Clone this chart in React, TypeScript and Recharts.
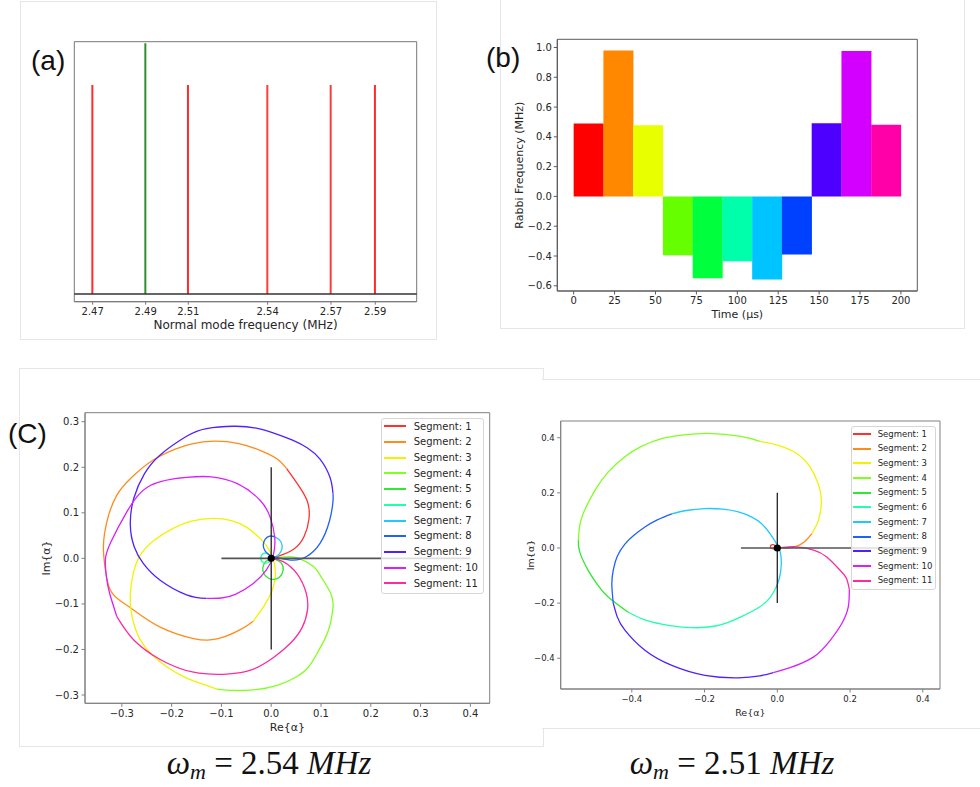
import React from 'react'
import {
  BarChart,
  Bar,
  Cell,
  LineChart,
  Line,
  XAxis,
  YAxis,
  ReferenceLine,
  ReferenceArea,
  ReferenceDot,
  Legend,
} from 'recharts'

const FONT = '"DejaVu Sans", Verdana, sans-serif'
const INK = '#262626'
const FRAME = '#5a5a5a'

// (a) normal mode spectrum
const modeFreqs = [2.4685, 2.491, 2.5091, 2.5428, 2.5697, 2.5885]
const modeAmps = [1.0, 1.2, 1.0, 1.0, 1.0, 1.0]
const modeColors = ['#ff2b2b', '#2f8f2f', '#ff2b2b', '#ff3b3b', '#ff3b3b', '#ff2b2b']

// (b) segmented Rabbi pulse
const segTimes = [9.09, 27.27, 45.45, 63.64, 81.82, 100, 118.18, 136.36, 154.55, 172.73, 190.91]
const rabbi = [0.49, 0.98, 0.478, -0.395, -0.55, -0.435, -0.558, -0.39, 0.491, 0.977, 0.482]
const barColors = [
  '#ff0000', '#ff8800', '#e8ff00', '#66ff00', '#00ff3c', '#00ffaa',
  '#00c4ff', '#0040ff', '#4d00ff', '#d400ff', '#ff00a8',
]
const timeTicks = [0, 25, 50, 75, 100, 125, 150, 175, 200]
const rabbiTicks = [-0.6, -0.4, -0.2, 0, 0.2, 0.4, 0.6, 0.8, 1.0]

// (C) phase space trajectories, one list of [Re, Im] points per segment
type P = [number, number]
const segNames = [
  'Segment: 1', 'Segment: 2', 'Segment: 3', 'Segment: 4', 'Segment: 5', 'Segment: 6',
  'Segment: 7', 'Segment: 8', 'Segment: 9', 'Segment: 10', 'Segment: 11',
]
const lineColors = [
  '#ff3030', '#ff8c1a', '#f2f200', '#80ff20', '#30e830', '#20ffaa',
  '#20c8ff', '#2060ff', '#5020ff', '#d820ff', '#ff2aa0',
]

const traj254: P[][] = [
  [[0, 0], [0.015, 0.005], [0.045, 0.02], [0.066, 0.048], [0.076, 0.088], [0.073, 0.124], [0.058, 0.155], [0.031, 0.197]],
  [[0.031, 0.197], [0.012, 0.218], [-0.02, 0.236], [-0.065, 0.252], [-0.123, 0.257], [-0.18, 0.245], [-0.237, 0.216], [-0.28, 0.178], [-0.31, 0.139], [-0.329, 0.085], [-0.337, 0.029], [-0.334, -0.018], [-0.324, -0.068], [-0.302, -0.094], [-0.277, -0.113], [-0.223, -0.151], [-0.156, -0.176], [-0.109, -0.177], [-0.063, -0.157], [-0.036, -0.138]],
  [[-0.036, -0.138], [-0.012, -0.1], [0.002, -0.07], [0.008, -0.042], [0.006, -0.01], [-0.004, 0.018], [-0.019, 0.04], [-0.049, 0.068], [-0.08, 0.083], [-0.116, 0.088], [-0.16, 0.082], [-0.197, 0.066], [-0.235, 0.04], [-0.263, 0.007], [-0.277, -0.033], [-0.283, -0.08], [-0.279, -0.13], [-0.263, -0.179], [-0.24, -0.211], [-0.21, -0.238], [-0.175, -0.26], [-0.143, -0.274], [-0.109, -0.287]],
  [[-0.109, -0.287], [-0.075, -0.29], [-0.03, -0.288], [0.012, -0.279], [0.051, -0.26], [0.076, -0.237], [0.093, -0.207], [0.109, -0.174], [0.119, -0.142], [0.124, -0.108], [0.12, -0.078], [0.1, -0.04], [0.085, -0.018], [0.058, -0.001], [0.036, 0.004], [0.014, 0.002], [0, 0]],
  [[0, 0], [-0.011, -0.007], [-0.017, -0.022], [-0.012, -0.038], [0.002, -0.046], [0.016, -0.042], [0.024, -0.026], [0.02, -0.01], [0.008, -0.002], [0, 0]],
  [[0, 0], [-0.005, 0.009], [-0.015, 0.011], [-0.021, 0.001], [-0.016, -0.009], [-0.006, -0.009], [0, 0]],
  [[0, 0], [0.01, 0.004], [0.019, 0.014], [0.022, 0.028], [0.017, 0.04], [0.008, 0.047]],
  [[0.008, 0.047], [-0.003, 0.049], [-0.012, 0.042], [-0.016, 0.029], [-0.012, 0.016], [-0.003, 0.007], [0.006, 0.003], [0.018, 0.0], [0.044, -0.004], [0.071, 0.004], [0.098, 0.033], [0.117, 0.082], [0.124, 0.125], [0.124, 0.143]],
  [[0.124, 0.143], [0.118, 0.178], [0.098, 0.218], [0.072, 0.243], [0.044, 0.259], [0.011, 0.273], [-0.03, 0.286], [-0.076, 0.29], [-0.13, 0.285], [-0.17, 0.268], [-0.223, 0.227], [-0.255, 0.185], [-0.276, 0.132], [-0.283, 0.073], [-0.275, 0.025], [-0.257, -0.011], [-0.223, -0.048], [-0.17, -0.08], [-0.13, -0.088]],
  [[-0.13, -0.088], [-0.1, -0.087], [-0.072, -0.079], [-0.036, -0.055], [-0.01, -0.026], [0.004, 0.006], [0.007, 0.047], [-0.002, 0.09], [-0.022, 0.127], [-0.068, 0.164], [-0.12, 0.179], [-0.17, 0.178], [-0.243, 0.16], [-0.29, 0.102], [-0.322, 0.036], [-0.333, -0.002], [-0.331, -0.04], [-0.325, -0.075], [-0.31, -0.128]],
  [[-0.31, -0.128], [-0.277, -0.178], [-0.223, -0.222], [-0.156, -0.25], [-0.089, -0.254], [-0.04, -0.245], [0.004, -0.218], [0.038, -0.187], [0.062, -0.152], [0.073, -0.112], [0.07, -0.075], [0.052, -0.034], [0.024, -0.007], [0, 0]],
]

const traj251: P[][] = [
  [[0, 0], [-0.006, 0.009], [-0.014, 0.012], [-0.019, 0.006], [-0.016, -0.002], [-0.008, -0.003], [0, 0]],
  [[0, 0], [0.026, 0.0], [0.046, 0.004], [0.063, 0.012], [0.08, 0.029], [0.095, 0.052]],
  [[0.095, 0.052], [0.113, 0.1], [0.121, 0.16], [0.119, 0.2], [0.111, 0.238], [0.09, 0.294], [0.053, 0.343], [0.0, 0.373], [-0.048, 0.387]],
  [[-0.048, 0.387], [-0.1, 0.405], [-0.19, 0.416], [-0.26, 0.41], [-0.318, 0.397], [-0.375, 0.368], [-0.419, 0.331], [-0.465, 0.275], [-0.501, 0.21], [-0.527, 0.145], [-0.542, 0.089], [-0.547, 0.028]],
  [[-0.547, 0.028], [-0.543, -0.015], [-0.52, -0.081], [-0.495, -0.132], [-0.465, -0.178], [-0.41, -0.233]],
  [[-0.41, -0.233], [-0.368, -0.259], [-0.318, -0.276], [-0.235, -0.289], [-0.17, -0.283], [-0.135, -0.27], [-0.1, -0.25], [-0.05, -0.215], [-0.02, -0.18], [-0.004, -0.145]],
  [[-0.004, -0.145], [0.006, -0.108], [0.011, -0.058], [0.009, -0.02], [0.002, 0.006], [-0.02, 0.052], [-0.043, 0.088], [-0.07, 0.112], [-0.107, 0.131], [-0.15, 0.141], [-0.199, 0.143], [-0.25, 0.136], [-0.29, 0.124]],
  [[-0.29, 0.124], [-0.33, 0.102], [-0.364, 0.076], [-0.395, 0.045], [-0.419, 0.014], [-0.44, -0.03], [-0.451, -0.08], [-0.455, -0.13], [-0.451, -0.2]],
  [[-0.451, -0.2], [-0.44, -0.25], [-0.419, -0.298], [-0.364, -0.371], [-0.29, -0.426], [-0.199, -0.462], [-0.107, -0.471], [-0.048, -0.464], [-0.011, -0.452]],
  [[-0.011, -0.452], [0.035, -0.434], [0.099, -0.396], [0.145, -0.336], [0.177, -0.275], [0.195, -0.215], [0.198, -0.15]],
  [[0.198, -0.15], [0.19, -0.11], [0.172, -0.08], [0.136, -0.033], [0.1, -0.008], [0.053, 0.004], [0.016, 0.002], [0, 0]],
]

// crosshair guides through the origin
const crossH: P[] = [[-0.1, 0], [0.4, 0]]
const crossV: P[] = [[0, -0.2], [0, 0.2]]

const ticks254X = [-0.3, -0.2, -0.1, 0, 0.1, 0.2, 0.3, 0.4]
const ticks254Y = [-0.3, -0.2, -0.1, 0, 0.1, 0.2, 0.3]
const ticks251X = [-0.4, -0.2, 0, 0.2, 0.4]
const ticks251Y = [-0.4, -0.2, 0, 0.2, 0.4]

const fmt1 = (v: number) => v.toFixed(1).replace('-', '\u2212')
const toPts = (s: P[]) => s.map(([x, y]) => ({ x, y }))

function ModesChart() {
  const data = modeFreqs.map((f, i) => ({ f, a: modeAmps[i] }))
  const xd: [number, number] = [2.4607, 2.6061]
  const yd: [number, number] = [-0.037, 1.207]
  return (
    <BarChart width={420} height={340} data={data} margin={{ top: 41.7, right: 23.3, bottom: 8.3, left: 54.3 }}>
      <XAxis
        dataKey="f"
        type="number"
        domain={xd}
        ticks={modeFreqs}
        allowDataOverflow
        tickFormatter={(v: number) => v.toFixed(2)}
        tick={{ fill: INK, fontSize: 10 }}
        axisLine={{ stroke: '#777' }}
        tickLine={{ stroke: '#777' }}
        tickSize={3}
        tickMargin={3.5}
        height={30}
        label={{ value: 'Normal mode frequency (MHz)', position: 'insideBottom', offset: 2.3, fill: INK, fontSize: 12 }}
      />
      <YAxis hide type="number" domain={yd} allowDataOverflow />
      <ReferenceArea x1={xd[0]} x2={xd[1]} y1={yd[0]} y2={yd[1]} fill="none" stroke="#777" strokeWidth={1} ifOverflow="visible" />
      <ReferenceLine y={0} stroke="#333" strokeWidth={1.6} />
      <Bar dataKey="a" barSize={2} isAnimationActive={false}>
        {data.map((_, i) => (
          <Cell key={i} fill={modeColors[i]} />
        ))}
      </Bar>
    </BarChart>
  )
}

function PulseChart() {
  const data = segTimes.map((t, i) => ({ t, v: rabbi[i] }))
  const xd: [number, number] = [-10, 210]
  const yd: [number, number] = [-0.635, 1.055]
  return (
    <BarChart
      width={465}
      height={330}
      data={data}
      barCategoryGap={0}
      barGap={0}
      margin={{ top: 39.3, right: 47.7, bottom: 7, left: 0 }}
    >
      <XAxis
        dataKey="t"
        type="number"
        domain={xd}
        ticks={timeTicks}
        allowDataOverflow
        tick={{ fill: INK, fontSize: 10 }}
        axisLine={{ stroke: FRAME }}
        tickLine={{ stroke: FRAME }}
        tickSize={3.5}
        tickMargin={2.7}
        height={32}
        label={{ value: 'Time (\u03bcs)', position: 'insideBottom', offset: 4.7, fill: INK, fontSize: 11 }}
      />
      <YAxis
        type="number"
        domain={yd}
        ticks={rabbiTicks}
        allowDataOverflow
        tickFormatter={fmt1}
        tick={{ fill: INK, fontSize: 10 }}
        axisLine={{ stroke: FRAME }}
        tickLine={{ stroke: FRAME }}
        tickSize={3.5}
        tickMargin={2}
        width={57.3}
        label={{
          value: 'Rabbi Frequency (MHz)',
          angle: -90,
          position: 'insideLeft',
          offset: 19,
          style: { textAnchor: 'middle' },
          fill: INK,
          fontSize: 11,
        }}
      />
      <Bar dataKey="v" isAnimationActive={false}>
        {data.map((_, i) => (
          <Cell key={i} fill={barColors[i]} />
        ))}
      </Bar>
      <ReferenceArea x1={xd[0]} x2={xd[1]} y1={yd[0]} y2={yd[1]} fill="none" stroke={FRAME} strokeWidth={1} ifOverflow="visible" />
    </BarChart>
  )
}

interface LegendBox {
  left: number
  top: number
  w: number
  h: number
  padTop: number
  rowH: number
  fontSize: number
  sampleX: number
  sampleW: number
  textX: number
}

// legend rows follow segment order (1..11), not the alphabetical payload order
function SegmentLegend({ box }: { box: LegendBox }) {
  return (
    <div
      style={{
        position: 'relative',
        boxSizing: 'border-box',
        width: box.w,
        height: box.h,
        background: 'rgba(255,255,255,0.8)',
        border: '1px solid #d6d6d6',
        borderRadius: 3,
        fontFamily: FONT,
        fontSize: box.fontSize,
        color: INK,
      }}
    >
      {segNames.map((name, i) => {
        const mid = box.padTop + i * box.rowH + box.rowH / 2
        return (
          <React.Fragment key={name}>
            <div
              style={{
                position: 'absolute',
                left: box.sampleX - 1,
                top: Math.round(mid - 2),
                width: box.sampleW,
                height: 2,
                background: lineColors[i],
              }}
            />
            <div
              style={{
                position: 'absolute',
                left: box.textX - 1,
                top: Math.round(mid - box.rowH / 2 - 1),
                lineHeight: `${box.rowH}px`,
                whiteSpace: 'nowrap',
              }}
            >
              {name}
            </div>
          </React.Fragment>
        )
      })}
    </div>
  )
}

interface TrajCfg {
  segs: P[][]
  w: number
  h: number
  margin: { top: number; right: number; bottom: number; left: number }
  xd: [number, number]
  yd: [number, number]
  xTicks: number[]
  yTicks: number[]
  tickFs: number
  labelFs: number
  xAxisH: number
  yAxisW: number
  xTickMargin: number
  xLabelOffset: number
  yLabelOffset: number
  legend: LegendBox
}

function TrajectoryChart({ cfg }: { cfg: TrajCfg }) {
  const { xd, yd, legend } = cfg
  return (
    <LineChart width={cfg.w} height={cfg.h} margin={cfg.margin}>
      <XAxis
        dataKey="x"
        type="number"
        domain={xd}
        ticks={cfg.xTicks}
        allowDataOverflow
        tickFormatter={fmt1}
        tick={{ fill: INK, fontSize: cfg.tickFs }}
        axisLine={{ stroke: '#808080' }}
        tickLine={{ stroke: '#808080' }}
        tickSize={3.5}
        tickMargin={cfg.xTickMargin}
        height={cfg.xAxisH}
        label={{ value: 'Re{\u03b1}', position: 'insideBottom', offset: cfg.xLabelOffset, fill: INK, fontSize: cfg.labelFs }}
      />
      <YAxis
        type="number"
        domain={yd}
        ticks={cfg.yTicks}
        allowDataOverflow
        tickFormatter={fmt1}
        tick={{ fill: INK, fontSize: cfg.tickFs }}
        axisLine={{ stroke: '#808080' }}
        tickLine={{ stroke: '#808080' }}
        tickSize={3.5}
        tickMargin={2.5}
        width={cfg.yAxisW}
        label={{
          value: 'Im{\u03b1}',
          angle: -90,
          position: 'insideLeft',
          offset: cfg.yLabelOffset,
          style: { textAnchor: 'middle' },
          fill: INK,
          fontSize: cfg.labelFs,
        }}
      />
      <ReferenceArea x1={xd[0]} x2={xd[1]} y1={yd[0]} y2={yd[1]} fill="none" stroke="#808080" strokeWidth={1} ifOverflow="visible" />
      {cfg.segs.map((s, i) => (
        <Line
          key={i}
          data={toPts(s)}
          dataKey="y"
          name={segNames[i]}
          type="natural"
          stroke={lineColors[i]}
          strokeWidth={1.3}
          dot={false}
          activeDot={false}
          isAnimationActive={false}
        />
      ))}
      <ReferenceLine segment={toPts(crossH)} stroke="#555" strokeWidth={1.7} ifOverflow="visible" />
      <ReferenceLine segment={toPts(crossV)} stroke="#222" strokeWidth={1.3} ifOverflow="visible" />
      <ReferenceDot x={0} y={0} r={3.6} fill="#000" stroke="none" />
      <Legend
        layout="vertical"
        align="center"
        verticalAlign="middle"
        wrapperStyle={{ left: legend.left, top: legend.top, width: legend.w, height: legend.h }}
        content={() => <SegmentLegend box={legend} />}
      />
    </LineChart>
  )
}

const cfg254: TrajCfg = {
  segs: traj254,
  w: 545,
  h: 376,
  margin: { top: 42.7, right: 55.3, bottom: 12.7, left: 0 },
  xd: [-0.374, 0.4388],
  yd: [-0.3182, 0.3198],
  xTicks: ticks254X,
  yTicks: ticks254Y,
  tickFs: 10,
  labelFs: 11,
  xAxisH: 30,
  yAxisW: 85,
  xTickMargin: 3,
  xLabelOffset: 2.6,
  yLabelOffset: 46,
  legend: { left: 380.7, top: 48.3, w: 103.3, h: 176, padTop: 0.5, rowH: 15.7, fontSize: 10, sampleX: 3.3, sampleW: 21.7, textX: 33 },
}

const cfg251: TrajCfg = {
  segs: traj251,
  w: 460,
  h: 345,
  margin: { top: 41, right: 40, bottom: 8, left: 0 },
  xd: [-0.5955, 0.4473],
  yd: [-0.5116, 0.4607],
  xTicks: ticks251X,
  yTicks: ticks251Y,
  tickFs: 8.5,
  labelFs: 9.5,
  xAxisH: 28,
  yAxisW: 40.7,
  xTickMargin: 3,
  xLabelOffset: 1.2,
  yLabelOffset: 11,
  legend: { left: 330.7, top: 46, w: 85, h: 164, padTop: 0.7, rowH: 14.67, fontSize: 8.5, sampleX: 2.6, sampleW: 17.7, textX: 27 },
}

const frame = (left: number, top: number, width: number, height: number, extra?: React.CSSProperties): React.CSSProperties => ({
  position: 'absolute',
  left,
  top,
  width,
  height,
  boxSizing: 'border-box',
  border: '1px solid #e6e6e6',
  ...extra,
})

const panelLabel = (left: number, top: number): React.CSSProperties => ({
  position: 'absolute',
  left,
  top,
  fontFamily: '"Liberation Sans", Arial, sans-serif',
  fontSize: 28,
  lineHeight: '28px',
  color: '#111',
})

const formula: React.CSSProperties = {
  position: 'absolute',
  top: 745,
  width: 260,
  height: 40,
  textAlign: 'center',
  fontFamily: '"Liberation Serif", "DejaVu Serif", serif',
  fontSize: 33,
  lineHeight: '36px',
  color: '#111',
  whiteSpace: 'nowrap',
}

const subM: React.CSSProperties = {
  fontSize: 22,
  fontStyle: 'italic',
  lineHeight: '22px',
  verticalAlign: '-0.22em',
}

export default function App() {
  return (
    <div
      style={{
        position: 'absolute',
        left: 0,
        top: 0,
        width: 980,
        height: 787,
        overflow: 'hidden',
        background: '#fff',
        fontFamily: FONT,
      }}
    >
      <div style={frame(20, 1, 417, 339)} />
      <div style={frame(500, -1, 465, 330)} />
      <div style={frame(19, 368, 525, 379)} />
      <div style={frame(542, 379, 442, 350, { background: '#fff', borderLeft: 'none' })} />

      <div style={{ position: 'absolute', left: 20, top: 0 }}>
        <ModesChart />
      </div>
      <div style={{ position: 'absolute', left: 500, top: 0 }}>
        <PulseChart />
      </div>
      <div style={{ position: 'absolute', left: 0, top: 370 }}>
        <TrajectoryChart cfg={cfg254} />
      </div>
      <div style={{ position: 'absolute', left: 520, top: 380 }}>
        <TrajectoryChart cfg={cfg251} />
      </div>

      <div style={panelLabel(31, 47)}>(a)</div>
      <div style={panelLabel(486, 44)}>(b)</div>
      <div style={panelLabel(8, 420)}>(C)</div>

      <div style={{ ...formula, left: 139 }}>
        <i>&omega;</i>
        <span style={subM}>m</span> = 2.54 <i>MHz</i>
      </div>
      <div style={{ ...formula, left: 602 }}>
        <i>&omega;</i>
        <span style={subM}>m</span> = 2.51 <i>MHz</i>
      </div>
    </div>
  )
}
